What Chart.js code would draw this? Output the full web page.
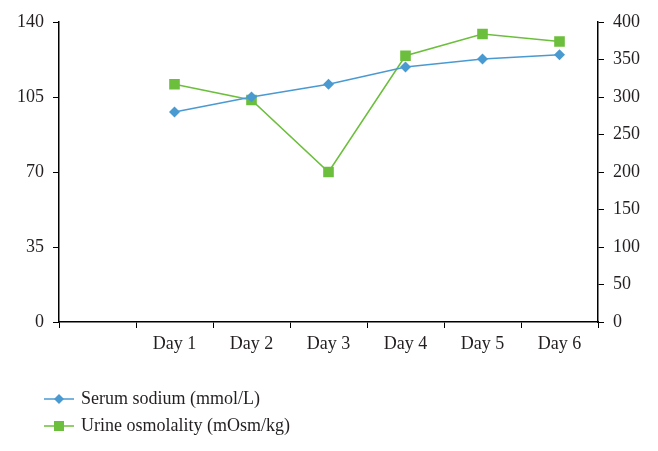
<!DOCTYPE html>
<html>
<head>
<meta charset="utf-8">
<script src="https://cdn.jsdelivr.net/npm/chart.js@4/dist/chart.umd.min.js"></script>
<style>
  html, body { margin: 0; padding: 0; background: #fff; }
  #wrap { position: relative; width: 658px; height: 451px; }
  #legend { position: absolute; left: 44px; top: 385px; font-family: "Liberation Serif", serif; font-size: 18px; color: #231f20; }
  .item { height: 27px; display: flex; align-items: center; }
  .item svg { margin-right: 7px; }
</style>
</head>
<body>
<div id="wrap">
  <canvas id="chart" width="658" height="451"></canvas>
  <div id="legend"></div>
</div>
<script>
// categories (first slot is empty in the original)
const days = ['', 'Day 1', 'Day 2', 'Day 3', 'Day 4', 'Day 5', 'Day 6'];
const serumSodium = [null, 98, 105, 111, 119, 122.7, 124.7];
const urineOsmolality = [null, 317, 296, 200, 355, 384, 374];
const leftTicks = [0, 35, 70, 105, 140];
const rightTicks = [0, 50, 100, 150, 200, 250, 300, 350, 400];

const blue = '#4a9ad2';
const green = '#6cbf3c';
const textColor = '#231f20';
const font = { family: '"Liberation Serif", serif', size: 18 };

const ctx = document.getElementById('chart').getContext('2d');
new Chart(ctx, {
    type: 'line',
    data: {
        labels: days,
        datasets: [{
            label: 'Serum sodium (mmol/L)',
            data: serumSodium,
            yAxisID: 'y',
            borderColor: blue,
            backgroundColor: blue,
            borderWidth: 1.5,
            pointStyle: 'rectRot',
            pointRadius: 5.5,
            pointBorderWidth: 0,
            tension: 0
        }, {
            label: 'Urine osmolality (mOsm/kg)',
            data: urineOsmolality,
            yAxisID: 'y1',
            borderColor: green,
            backgroundColor: green,
            borderWidth: 1.5,
            pointStyle: 'rect',
            pointRadius: 7.5,
            pointBorderWidth: 0,
            tension: 0
        }]
    },
    options: {
        responsive: false,
        animation: false,
        layout: { padding: { top: 22, left: 0, right: 0, bottom: 0 } },
        plugins: {
            legend: { display: false },
            tooltip: { enabled: false }
        },
        scales: {
            x: {
                offset: true,
                grid: { offset: true, drawOnChartArea: false, color: '#000', tickLength: 6 },
                border: { color: '#000', width: 1.5 },
                ticks: { color: textColor, font: font, padding: 5, maxRotation: 0, autoSkip: false },
                afterFit: function (scale) { scale.height = 129; }
            },
            y: {
                position: 'left',
                min: 0,
                max: 140,
                afterBuildTicks: function (scale) { scale.ticks = leftTicks.map(v => ({ value: v })); },
                grid: { drawOnChartArea: false, color: '#000', tickLength: 6 },
                border: { color: '#000', width: 1.5 },
                ticks: { color: textColor, font: font, padding: 9 },
                afterFit: function (scale) { scale.width = 59; }
            },
            y1: {
                position: 'right',
                min: 0,
                max: 400,
                afterBuildTicks: function (scale) { scale.ticks = rightTicks.map(v => ({ value: v })); },
                grid: { drawOnChartArea: false, color: '#000', tickLength: 6 },
                border: { color: '#000', width: 1.5 },
                ticks: { color: textColor, font: font, padding: 9 },
                afterFit: function (scale) { scale.width = 60; }
            }
        }
    }
});

// legend, stacked vertically under the chart
const legend = document.getElementById('legend');
const items = [
    { text: 'Serum sodium (mmol/L)', color: blue, marker: '<polygon points="15,3 20,8 15,13 10,8" />' },
    { text: 'Urine osmolality (mOsm/kg)', color: green, marker: '<rect x="10" y="3" width="10" height="10" />' }
];
items.forEach(function (it) {
    const row = document.createElement('div');
    row.className = 'item';
    row.innerHTML = '<svg width="30" height="16"><line x1="0" y1="8" x2="30" y2="8" stroke="' + it.color +
        '" stroke-width="1.5"/><g fill="' + it.color + '">' + it.marker + '</g></svg><span>' + it.text + '</span>';
    legend.appendChild(row);
});
</script>
</body>
</html>
